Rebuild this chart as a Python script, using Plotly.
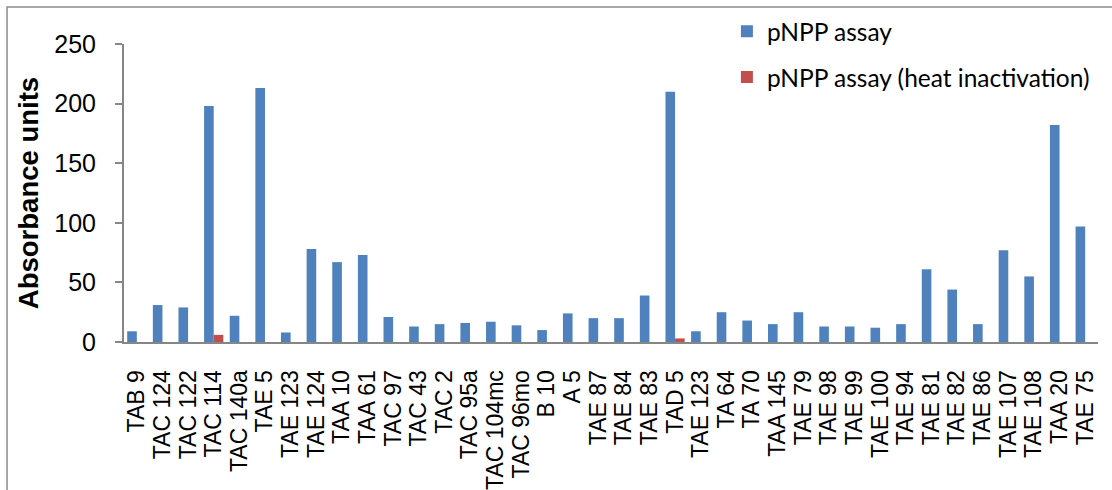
import plotly.graph_objects as go

# Isolates tested with the pNPP phosphatase assay
isolates = [
    "TAB 9", "TAC 124", "TAC 122", "TAC 114", "TAC 140a", "TAE 5", "TAE 123",
    "TAE 124", "TAA 10", "TAA 61", "TAC 97", "TAC 43", "TAC 2", "TAC 95a",
    "TAC 104mc", "TAC 96mo", "B 10", "A 5", "TAE 87", "TAE 84", "TAE 83",
    "TAD 5", "TAE 123", "TA 64", "TA 70", "TAA 145", "TAE 79", "TAE 98",
    "TAE 99", "TAE 100", "TAE 94", "TAE 81", "TAE 82", "TAE 86", "TAE 107",
    "TAE 108", "TAA 20", "TAE 75",
]

pnpp_assay = [
    9, 31, 29, 198, 22, 213, 8, 78, 67, 73, 21, 13, 15, 16, 17, 14, 10, 24,
    20, 20, 39, 210, 9, 25, 18, 15, 25, 13, 13, 12, 15, 61, 44, 15, 77, 55,
    182, 97,
]

pnpp_heat = [
    0, 0, 0, 6, 0, 0, 0, 0, 0, 0, 0, 0, 0, 0, 0, 0, 0, 0, 0, 0, 0, 3, 0, 0,
    0, 0, 0, 0, 0, 0, 0, 0, 0, 0, 0, 0, 0, 0,
]

y_ticks = [0, 50, 100, 150, 200, 250]

# isolate names repeat (TAE 123), so bars sit on numeric positions
positions = list(range(len(isolates)))

fig = go.Figure()
fig.add_trace(go.Bar(
    x=positions, y=pnpp_assay, name="pNPP assay",
    marker=dict(color="#4F81BD", line=dict(width=0)),
    legendgroup="a",
))
fig.add_trace(go.Bar(
    x=positions, y=pnpp_heat, name="pNPP assay (heat inactivation)",
    marker=dict(color="#C0504D", line=dict(width=0)),
    legendgroup="b",
))

axis_grey = "#868686"

fig.update_layout(
    width=1112, height=490,
    margin=dict(l=124, r=14, t=44, b=148, autoexpand=False),
    paper_bgcolor="white", plot_bgcolor="white",
    barmode="group", bargap=0.25, bargroupgap=0,
    font=dict(family="Liberation Sans, Arial, sans-serif", color="black"),
    showlegend=True,
    legend=dict(
        x=0.619, y=1.118, xanchor="left", yanchor="top",
        font=dict(family="Lato, Open Sans, sans-serif", size=24.5, color="black"),
        tracegroupgap=11, traceorder="grouped",
        bgcolor="rgba(0,0,0,0)", itemclick=False,
    ),
    xaxis=dict(
        range=[-0.5, len(isolates) - 0.5],
        tickmode="array", tickvals=positions, ticktext=isolates,
        tickangle=-90, tickfont=dict(size=23),
        ticks="", ticklabelstandoff=17,
        showline=True, linecolor=axis_grey, linewidth=2,
        showgrid=False, zeroline=False, automargin=False,
    ),
    yaxis=dict(
        range=[0, 250],
        tickmode="array", tickvals=y_ticks,
        tickfont=dict(size=25),
        ticks="outside", ticklen=7, tickcolor=axis_grey, tickwidth=1.5,
        ticklabelstandoff=14,
        showline=True, linecolor=axis_grey, linewidth=2,
        showgrid=False, zeroline=False, automargin=False,
        title=dict(text="<b>Absorbance units</b>",
                   font=dict(size=27.5), standoff=8),
    ),
    shapes=[
        dict(
            type="path", xref="paper", yref="paper",
            path="M -0.1201,-0.52 L -0.1201,1.1242 L 1.02,1.1242",
            line=dict(color="#8c8c8c", width=1.5),
        )
    ],
)

fig.write_html("out.html")
